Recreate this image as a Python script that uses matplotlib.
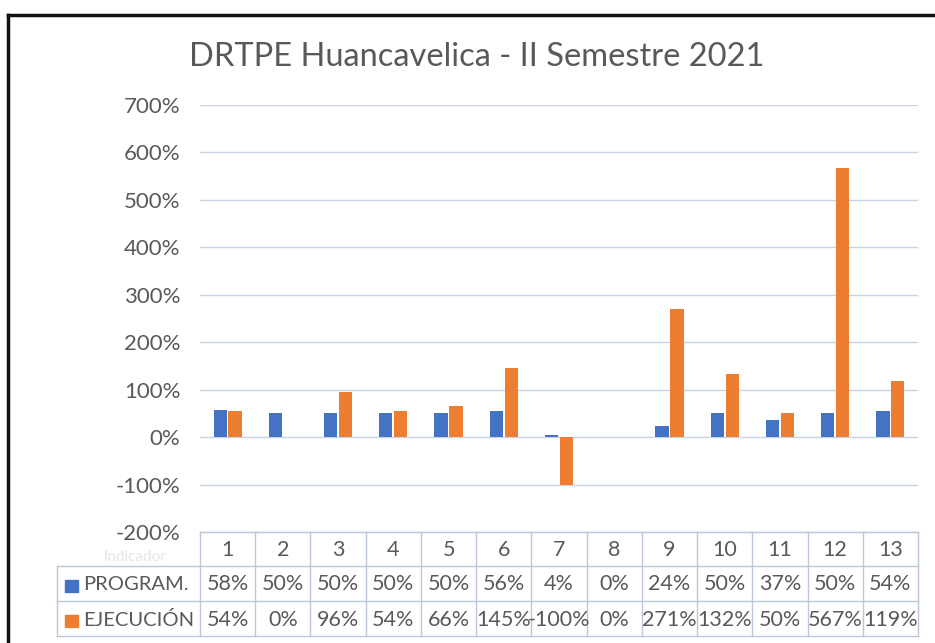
import matplotlib
matplotlib.use("Agg")
import matplotlib.pyplot as plt
from matplotlib.lines import Line2D
from matplotlib.patches import Rectangle
from matplotlib.ticker import FuncFormatter

plt.rcParams['font.family'] = ['Lato', 'DejaVu Sans']

categories = ["1", "2", "3", "4", "5", "6", "7", "8", "9", "10", "11", "12", "13"]
program = [58, 50, 50, 50, 50, 56, 4, 0, 24, 50, 37, 50, 54]
ejecucion = [54, 0, 96, 54, 66, 145, -100, 0, 271, 132, 50, 567, 119]
program_labels = ["58%", "50%", "50%", "50%", "50%", "56%", "4%", "0%", "24%", "50%", "37%", "50%", "54%"]
ejecucion_labels = ["54%", "0%", "96%", "54%", "66%", "145%", "-100%", "0%", "271%", "132%", "50%", "567%", "119%"]
series_names = ["PROGRAM.", "EJECUCIÓN"]
title = "DRTPE Huancavelica - II Semestre 2021"
yticks = [-200, -100, 0, 100, 200, 300, 400, 500, 600, 700]

BLUE = "#4472C4"
ORANGE = "#ED7D31"
TXT = "#595959"
GRID = "#C8D4E6"

W, H = 935, 643
fig = plt.figure(figsize=(W / 100, H / 100), dpi=100)
fig.patch.set_facecolor("white")

def fx(px):
    return px / W

def fy(py):
    return 1 - py / H

ax_left, ax_right, ax_top, ax_bot = 200, 918, 105, 532
ax = fig.add_axes([fx(ax_left), fy(ax_bot), fx(ax_right - ax_left), (ax_bot - ax_top) / H])
n = len(categories)
x = list(range(n))
bw = 0.24
off = 0.135
ax.bar([i - off for i in x], program, width=bw, color=BLUE, zorder=3)
ax.bar([i + off for i in x], ejecucion, width=bw, color=ORANGE, zorder=3)
ax.set_xlim(-0.5, n - 0.5)
ax.set_ylim(-200, 700)
ax.set_yticks(yticks)
ax.yaxis.set_major_formatter(FuncFormatter(lambda v, p: f"{int(v)}%"))
ax.tick_params(axis="y", length=0, labelsize=16, labelcolor=TXT, pad=14)
ax.set_xticks([])
for s in ax.spines.values():
    s.set_visible(False)
ax.grid(axis="y", color=GRID, linewidth=1.0, zorder=0)
ax.set_axisbelow(True)

fig.text(fx(477), fy(57), title, ha="center", va="center", fontsize=23.5, color=TXT)

# data table
col_w = (ax_right - ax_left) / n
rows = [532, 566, 601, 636]
lab_left = 57
LC = "#BCC8DA"

def hline(y, x0, x1):
    fig.add_artist(Line2D([fx(x0), fx(x1)], [fy(y), fy(y)], color=LC, lw=1.0))

def vline(xp, y0, y1):
    fig.add_artist(Line2D([fx(xp), fx(xp)], [fy(y0), fy(y1)], color=LC, lw=1.0))

hline(rows[0], ax_left, ax_right)
for r in rows[1:]:
    hline(r, lab_left, ax_right)
vline(lab_left, rows[1], rows[3])
for k in range(n + 1):
    vline(ax_left + k * col_w, rows[0], rows[3])

FS = 15.5
for k, c in enumerate(categories):
    cx = ax_left + (k + 0.5) * col_w
    fig.text(fx(cx), fy((rows[0] + rows[1]) / 2 + 1), c, ha="center", va="center", fontsize=FS, color=TXT)
    fig.text(fx(cx), fy((rows[1] + rows[2]) / 2 + 1), program_labels[k], ha="center", va="center", fontsize=FS, color=TXT)
    fig.text(fx(cx), fy((rows[2] + rows[3]) / 2 + 1), ejecucion_labels[k], ha="center", va="center", fontsize=FS, color=TXT)

fig.text(fx(135), fy(557), "Indicador", ha="center", va="center", fontsize=11, color="#E6E6E6")

for name, col, (r0, r1) in [(series_names[0], BLUE, (rows[1], rows[2])),
                            (series_names[1], ORANGE, (rows[2], rows[3]))]:
    cy = (r0 + r1) / 2 + 2
    fig.add_artist(Rectangle((fx(65), fy(cy + 6)), fx(13), 12 / H, color=col))
    fig.text(fx(83), fy(cy - 1), name, ha="left", va="center", fontsize=14.5, color=TXT)

# outer frame of the scanned chart
fig.add_artist(Line2D([fx(8), 1], [fy(15), fy(15)], color="#111111", lw=2.5))
fig.add_artist(Line2D([fx(8), fx(8)], [fy(15), 0], color="#111111", lw=2.5))

fig.savefig("out.png", dpi=100, facecolor="white")
